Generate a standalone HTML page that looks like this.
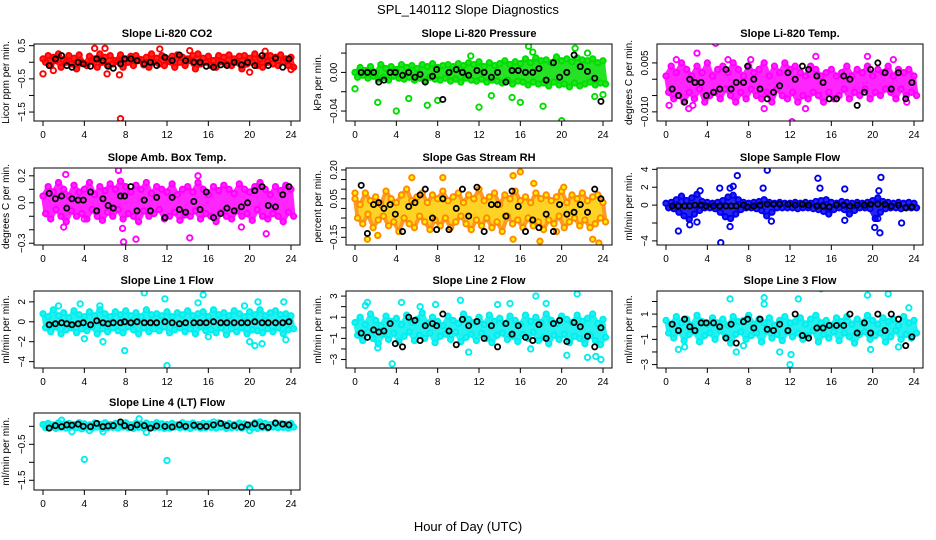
<!DOCTYPE html>
<html><head><meta charset="utf-8"><style>
body{margin:0;background:#fff}
svg{display:block;font-family:"Liberation Sans",Arial,sans-serif}
</style></head><body>
<svg id="c" width="936" height="540" viewBox="0 0 936 540">
<text x="468" y="14" text-anchor="middle" font-size="13">SPL_140112  Slope Diagnostics</text>
<text x="468" y="531" text-anchor="middle" font-size="13">Hour of Day (UTC)</text>
</svg>
<script>
const HOURS=[0,0.5,1,1.5,2,2.5,3,3.5,4,4.5,5,5.5,6,6.5,7,7.5,8,8.5,9,9.5,10,10.5,11,11.5,12,12.5,13,13.5,14,14.5,15,15.5,16,16.5,17,17.5,18,18.5,19,19.5,20,20.5,21,21.5,22,22.5,23,23.5,24];
const BHOURS=[0.6,1.2,1.8,2.3,2.8,3.4,3.9,4.6,5.2,5.8,6.3,6.8,7.5,7.9,8.5,9.1,9.8,10.4,11.0,11.8,12.5,13.2,13.8,14.6,15.2,15.8,16.5,17.2,17.8,18.5,19.2,19.8,20.5,21.2,21.8,22.5,23.2,23.8];
const XTICKS=[0,4,8,12,16,20,24];

const co2A=[0.1,0.2,0.15,0.25,0.05,0.2,0.12,0.22,-0.05,0.18,0.1,0.25,0.15,0.2,0.05,0.22,0.1,0.18,0.2,0.08,0.15,0.25,0.12,0.2,0.1,0.18,0.22,0.15,0.1,0.2,0.25,0.12,0.18,0.05,0.2,0.15,0.22,0.1,0.18,0.2,0.12,0.25,0.1,0.18,0.2,0.15,0.22,0.1,0.15];
const co2B=[0,-0.1,0.05,-0.15,0,-0.05,-0.2,0,-0.1,0.05,-0.15,0,-0.1,-0.05,0.02,-0.15,0,-0.1,0.05,-0.08,-0.15,0,-0.05,-0.1,0.02,-0.15,0,-0.1,0.05,-0.2,-0.05,0,-0.1,-0.15,0.02,-0.05,-0.1,0,-0.2,-0.05,0,-0.1,-0.15,0,-0.05,-0.1,0.02,-0.1,-0.15];
const co2Out=[[0,-0.35],[1,-0.25],[5,0.42],[6,0.42],[6.2,-0.35],[7.4,-0.38],[7.5,-1.7],[11.3,0.4],[14.2,0.35],[20,-0.3],[21.5,0.33],[24,-0.22]];
const co2K=[-0.1,0.1,0.2,-0.1,-0.15,0.0,-0.05,-0.12,0.1,0.05,-0.12,-0.18,-0.05,0.1,0.1,0.05,-0.05,0.0,-0.1,0.15,0.05,0.22,0.05,0.0,0.0,-0.12,-0.15,-0.08,-0.1,0.0,-0.08,0.0,-0.1,0.2,-0.1,0.12,-0.15,0.1];

const prA=[0.0,0.005,0.002,0.006,0.0,0.008,0.004,0.006,0.003,0.008,0.005,0.007,0.004,0.008,0.006,0.009,0.005,0.007,0.008,0.006,0.009,0.007,0.01,0.008,0.011,0.006,0.01,0.007,0.009,0.012,0.008,0.011,0.009,0.014,0.01,0.015,0.012,0.013,0.01,0.016,0.012,0.014,0.011,0.015,0.013,0.012,0.014,0.01,0.012];
const prB=[-0.005,-0.003,-0.006,-0.004,-0.007,-0.005,-0.008,-0.004,-0.006,-0.007,-0.005,-0.008,-0.006,-0.009,-0.005,-0.007,-0.008,-0.006,-0.009,-0.007,-0.01,-0.006,-0.008,-0.009,-0.007,-0.01,-0.008,-0.009,-0.011,-0.008,-0.012,-0.009,-0.01,-0.013,-0.01,-0.012,-0.011,-0.014,-0.01,-0.013,-0.012,-0.015,-0.011,-0.014,-0.012,-0.01,-0.013,-0.011,-0.012];
const prOut=[[0,-0.017],[2.2,-0.031],[4,-0.04],[5.2,-0.027],[7,-0.034],[8,-0.029],[11.2,0.017],[12,-0.036],[13.2,-0.024],[15.2,-0.026],[16,-0.031],[16.8,0.027],[17.2,0.021],[18.2,-0.035],[20,-0.05],[21.3,0.025],[22.5,0.02],[23.2,-0.025],[24,-0.023]];
const prK=[0.0,0.0,0.0,-0.01,-0.008,0.0,0.0,-0.003,0.0,-0.005,-0.002,-0.01,-0.004,0.003,-0.028,0.0,0.003,0.0,-0.003,0.002,0.0,-0.005,0.0,-0.01,0.002,0.002,0.0,0.0,0.004,-0.008,0.01,-0.005,0.0,0.018,0.006,0.001,-0.006,-0.03];

const tpA=[0.001,0.004,0.002,0.005,0.003,0.001,0.004,0.002,0.005,0.001,0.003,0.004,0.002,0.005,0.003,0.001,0.004,0.002,0.003,0.005,0.001,0.004,0.002,0.005,0.003,0.004,0.002,0.001,0.004,0.003,0.001,0.002,0.003,0.001,0.002,0.004,0.001,0.003,0.002,0.004,0.001,0.003,0.002,0.004,0.001,0.003,0.002,0.003,0.001];
const tpB=[-0.004,-0.006,-0.005,-0.007,-0.004,-0.006,-0.003,-0.007,-0.005,-0.004,-0.006,-0.003,-0.005,-0.007,-0.004,-0.006,-0.003,-0.005,-0.006,-0.004,-0.007,-0.003,-0.005,-0.006,-0.004,-0.007,-0.005,-0.006,-0.004,-0.005,-0.007,-0.004,-0.006,-0.005,-0.003,-0.006,-0.004,-0.005,-0.003,-0.006,-0.004,-0.005,-0.003,-0.004,-0.006,-0.003,-0.005,-0.004,-0.005];
const tpOut=[[0.3,-0.008],[1,0.006],[2.2,-0.009],[2.6,-0.008],[3,0.008],[4.8,0.011],[6,0.006],[8.2,0.006],[9.5,-0.009],[12.2,-0.013],[13.5,-0.009],[14.5,0.007],[19.5,0.007],[22,0.006],[23.3,-0.007]];
const tpK=[-0.003,-0.005,-0.007,0.0,-0.001,-0.001,-0.005,-0.004,-0.003,0.003,-0.003,-0.001,-0.001,0.004,0.0,-0.003,-0.006,-0.004,-0.002,0.002,0.0,0.004,0.003,0.001,-0.001,-0.006,-0.006,0.001,0.0,-0.008,-0.004,0.003,0.005,0.002,-0.003,0.002,-0.006,-0.001];

const abA=[0.05,0.12,0.08,0.15,0.1,0.05,0.13,0.08,0.1,0.15,0.06,0.12,0.09,0.14,0.1,0.16,0.12,0.08,0.13,0.1,0.15,0.07,0.12,0.1,0.08,0.14,0.06,0.1,0.12,0.08,0.15,0.1,0.06,0.12,0.09,0.13,0.1,0.07,0.14,0.1,0.08,0.12,0.15,0.1,0.06,0.12,0.09,0.13,0.1];
const abB=[-0.08,-0.12,-0.05,-0.1,-0.14,-0.06,-0.1,-0.08,-0.12,-0.05,-0.1,-0.13,-0.07,-0.1,-0.05,-0.12,-0.08,-0.1,-0.14,-0.06,-0.1,-0.08,-0.05,-0.12,-0.1,-0.07,-0.13,-0.09,-0.1,-0.06,-0.12,-0.08,-0.1,-0.14,-0.07,-0.1,-0.12,-0.06,-0.1,-0.08,-0.13,-0.05,-0.1,-0.12,-0.08,-0.1,-0.14,-0.07,-0.1];
const abOut=[[2.2,0.21],[7.3,0.24],[7.7,-0.19],[7.8,-0.29],[9,-0.27],[14.2,-0.26],[15,0.2],[19.2,-0.18],[21.6,-0.23],[2,-0.18],[4,-0.12]];
const abK=[0.07,0.03,0.05,-0.04,0.03,0.02,0.02,0.08,-0.06,0.03,-0.02,-0.04,0.05,0.05,0.12,-0.06,0.02,-0.06,0.04,-0.11,0.04,-0.05,-0.07,0.01,-0.05,0.08,-0.11,-0.08,-0.04,-0.06,-0.03,0.0,0.09,0.12,-0.02,-0.03,0.06,0.12];

const rhA=[0.05,0.02,0.08,0.04,0.06,0.02,0.09,0.05,0.03,0.07,0.1,0.04,0.06,0.08,0.03,0.07,0.05,0.09,0.04,0.06,0.08,0.03,0.07,0.05,0.1,0.04,0.06,0.08,0.02,0.07,0.05,0.09,0.04,0.06,0.03,0.08,0.05,0.07,0.04,0.06,0.09,0.03,0.07,0.05,0.08,0.04,0.06,0.07,0.03];
const rhB=[-0.05,-0.08,-0.03,-0.1,-0.06,-0.04,-0.09,-0.07,-0.12,-0.05,-0.08,-0.1,-0.04,-0.07,-0.11,-0.06,-0.09,-0.05,-0.1,-0.07,-0.04,-0.08,-0.11,-0.06,-0.09,-0.05,-0.1,-0.07,-0.12,-0.04,-0.08,-0.06,-0.1,-0.05,-0.09,-0.07,-0.11,-0.06,-0.08,-0.04,-0.1,-0.07,-0.05,-0.09,-0.06,-0.1,-0.08,-0.05,-0.07];
const rhOut=[[0,0.08],[1.2,-0.16],[2.2,-0.14],[5.5,0.16],[8.5,0.16],[15.3,0.17],[15.3,-0.16],[16,0.19],[17.3,0.13],[17.9,-0.17],[19.5,-0.12],[23,-0.16],[23.6,-0.18],[20.2,0.11]];
const rhK=[0.12,-0.13,0.02,0.03,0.0,0.02,-0.03,-0.12,0.01,0.03,0.07,0.1,-0.05,-0.11,0.05,-0.11,0.0,0.1,-0.04,0.11,-0.12,0.02,0.02,-0.04,0.09,0.01,-0.12,-0.06,-0.1,-0.03,-0.12,0.02,-0.03,-0.02,0.02,-0.02,0.1,0.05];

const sfA=[0.2,0.3,0.6,1.0,0.5,0.8,1.2,0.4,0.3,0.2,0.3,0.5,0.9,1.1,0.6,0.3,0.2,0.3,0.4,0.6,0.3,0.2,0.3,0.2,0.2,0.3,0.2,0.3,0.2,0.4,0.5,0.6,0.3,0.2,0.4,0.3,0.2,0.3,0.2,0.3,0.5,0.8,0.4,0.3,0.2,0.3,0.2,0.3,0.2];
const sfB=[-0.3,-0.4,-0.8,-1.2,-1.6,-1.0,-0.6,-0.3,-0.3,-0.4,-0.8,-1.3,-1.5,-1.0,-0.5,-0.3,-0.3,-0.4,-0.6,-1.2,-0.8,-0.3,-0.3,-0.3,-0.3,-0.4,-0.3,-0.3,-0.4,-0.5,-0.7,-1.0,-0.5,-0.3,-0.5,-1.0,-0.6,-0.3,-0.3,-0.4,-1.5,-0.8,-0.4,-0.3,-0.3,-0.4,-0.3,-0.3,-0.3];
const sfOut=[[1.2,-2.9],[2.3,-2.2],[3,-1.9],[3.3,1.6],[5.2,1.9],[5.3,-4.2],[6.2,1.9],[6.5,2.1],[6.9,3.3],[6.2,-2.4],[9.4,1.9],[9.8,3.9],[10.2,-1.8],[14.7,3.0],[14.9,1.9],[17.3,1.8],[17.3,-1.7],[20.2,-2.5],[20.5,-1.5],[20.7,-3.1],[20.8,3.1],[20.6,1.6],[22.8,-2.0]];
const sfK=[-0.1,-0.1,-0.1,-0.1,0.0,0.0,-0.1,-0.1,-0.1,-0.1,-0.1,-0.1,0.0,-0.2,-0.1,0.0,0.1,0.1,0.1,0.1,0.0,0.1,0.0,-0.1,-0.1,-0.2,0.0,0.0,-0.1,0.0,0.0,0.1,0.1,0.1,-0.1,0.0,-0.3,-0.2];

const l1A=[0.8,0.5,1.2,0.6,0.9,0.4,1.1,0.7,0.5,1.0,0.6,1.2,0.8,0.5,1.0,0.7,1.1,0.6,0.9,0.5,1.2,0.7,0.8,0.6,1.0,0.5,0.9,0.7,1.1,0.6,0.8,1.0,0.5,1.2,0.7,0.9,0.6,1.1,0.8,0.5,1.0,0.7,1.2,0.6,0.9,1.1,0.7,0.8,0.6];
const l1B=[-0.6,-1.0,-0.5,-1.2,-0.8,-0.6,-1.1,-0.7,-0.9,-0.5,-1.2,-0.7,-1.0,-0.6,-0.9,-1.1,-0.5,-0.8,-1.2,-0.6,-1.0,-0.7,-0.9,-0.5,-1.1,-0.8,-0.6,-1.0,-0.7,-1.2,-0.5,-0.9,-0.8,-1.1,-0.6,-1.3,-0.7,-1.0,-0.6,-1.2,-0.8,-0.9,-1.1,-0.7,-1.0,-0.6,-1.2,-0.8,-0.7];
const l1Out=[[1.5,1.6],[3.6,1.8],[4.0,-1.7],[5.5,1.6],[5.8,-2.0],[9.8,2.9],[7.9,-2.9],[11.8,2.3],[12.0,-4.4],[15,1.9],[15.5,2.7],[16,-1.5],[19.5,1.6],[20.8,2.0],[20,-2.0],[20.5,-2.4],[21.2,-2.2],[23.3,2.0],[23.5,-1.8]];
const l1K=[-0.3,-0.2,-0.1,-0.2,-0.3,-0.2,-0.1,-0.3,0.1,-0.1,-0.2,-0.1,-0.1,0.0,-0.1,0.0,-0.1,-0.1,-0.1,0.0,-0.1,-0.2,-0.1,-0.1,-0.1,-0.1,0.0,-0.1,-0.1,-0.1,-0.1,-0.1,0.0,-0.1,-0.1,-0.1,-0.1,0.0];

const l2A=[0.5,1.0,0.3,1.3,0.7,0.2,1.1,0.6,0.9,0.3,1.2,0.5,0.8,1.4,0.4,1.0,0.6,0.2,1.1,0.7,0.4,1.3,0.8,0.5,1.0,0.3,1.2,0.6,0.9,0.4,1.1,0.7,0.3,1.2,0.6,1.0,0.5,1.3,0.7,0.4,1.1,0.8,0.5,1.2,0.6,0.9,1.3,0.4,0.8];
const l2B=[-0.7,-1.2,-0.4,-1.0,-1.5,-0.6,-1.1,-0.5,-1.3,-0.8,-0.4,-1.2,-0.7,-1.0,-0.5,-1.4,-0.8,-0.6,-1.1,-0.4,-1.3,-0.9,-0.6,-1.2,-0.5,-1.0,-1.4,-0.7,-0.5,-1.1,-0.8,-1.3,-0.6,-1.0,-0.4,-1.2,-0.9,-1.5,-0.7,-1.1,-0.6,-1.4,-0.8,-1.0,-1.5,-0.7,-1.2,-1.6,-0.9];
const l2Out=[[1.2,2.4],[1.0,2.1],[2.2,-1.9],[3.6,-3.4],[4.5,2.4],[6.3,2.0],[7.8,2.2],[10.2,2.6],[11,-2.3],[13.8,2.2],[15,2.3],[17,-2.0],[17.5,3.0],[18.5,2.3],[20.5,-2.6],[21.5,3.2],[22.5,-2.8],[23.8,-3.0],[23.3,-2.7]];
const l2K=[-0.5,-0.9,-0.2,-0.4,-0.3,0.4,-1.5,-1.8,1.0,0.7,-1.2,0.2,0.4,0.2,1.3,-0.3,-1.6,0.8,0.2,0.6,-1.0,0.2,-1.8,0.4,-0.6,0.2,-0.9,-1.2,0.3,-1.0,0.4,0.7,-1.3,0.5,0.1,-0.8,-1.8,0.0];

const l3A=[0.5,0.2,0.8,0.3,0.6,0.1,0.9,0.4,0.2,0.7,0.3,0.6,0.1,0.8,0.4,0.5,0.9,0.2,0.6,0.3,0.7,0.1,0.5,0.8,0.3,0.4,0.7,0.2,0.6,0.9,0.3,0.5,0.1,0.7,0.4,0.8,0.2,0.6,0.3,0.9,0.5,0.2,0.7,0.4,0.6,0.1,0.8,0.3,0.5];
const l3B=[-0.5,-0.9,-0.3,-1.1,-0.6,-0.4,-1.2,-0.7,-0.5,-1.0,-0.3,-0.8,-1.3,-0.6,-0.4,-1.0,-0.7,-0.5,-1.2,-0.3,-0.9,-0.6,-1.1,-0.4,-0.8,-0.5,-1.0,-0.7,-0.3,-1.2,-0.6,-0.9,-0.4,-1.1,-0.5,-0.8,-1.3,-0.6,-0.4,-1.0,-0.7,-0.5,-1.2,-0.8,-0.3,-1.0,-0.6,-0.9,-0.5];
const l3Out=[[1.2,-1.8],[1.8,-1.6],[6.2,2.2],[6.8,-2.0],[7.5,-1.5],[9.5,2.3],[9.5,1.8],[11,-2.0],[12,-3.0],[12.1,-2.2],[12.8,2.2],[15,3.0],[19.5,2.5],[19.8,-1.8],[21.5,2.6],[23.5,1.5],[22.5,-1.6]];
const l3K=[0.2,-0.3,0.6,0.0,-0.3,0.3,0.3,0.3,0.0,-0.9,0.2,-1.3,0.4,0.6,-0.1,0.6,-0.2,-0.3,0.2,-0.3,1.0,-0.7,-0.9,-0.1,-0.1,0.1,0.1,0.1,1.0,-0.5,0.3,-0.5,1.0,-0.3,1.0,0.6,-1.5,-0.8];

const l4A=[0.05,0.08,0.04,0.1,0.06,0.08,0.05,0.1,0.07,0.04,0.09,0.06,0.1,0.05,0.08,0.06,0.1,0.04,0.08,0.06,0.09,0.05,0.1,0.07,0.05,0.08,0.04,0.1,0.06,0.09,0.05,0.08,0.07,0.04,0.1,0.06,0.08,0.05,0.09,0.07,0.04,0.1,0.06,0.08,0.05,0.1,0.07,0.06,0.08];
const l4B=[-0.04,-0.02,-0.06,-0.03,-0.05,-0.02,-0.04,-0.07,-0.03,-0.05,-0.02,-0.06,-0.04,-0.03,-0.05,-0.02,-0.04,-0.06,-0.03,-0.05,-0.02,-0.04,-0.03,-0.06,-0.05,-0.02,-0.04,-0.03,-0.06,-0.02,-0.05,-0.04,-0.03,-0.05,-0.02,-0.06,-0.04,-0.03,-0.05,-0.02,-0.04,-0.06,-0.03,-0.05,-0.02,-0.04,-0.03,-0.05,-0.02];
const l4Out=[[1.8,0.17],[2.8,-0.15],[4,-0.92],[4.5,-0.12],[5.8,-0.15],[9.3,0.21],[10,-0.17],[12,-0.95],[16.5,0.12],[20,-1.72],[20,-0.12],[21,0.12]];
const l4K=[-0.05,0.02,-0.01,0.04,0.03,0.06,0.0,-0.01,0.08,-0.01,0.01,0.02,0.12,0.02,-0.03,0.04,0.02,-0.05,0.01,0.0,-0.02,0.04,0.0,0.03,0.0,0.0,0.04,0.08,0.02,0.02,-0.02,0.04,0.07,0.0,-0.03,0.09,0.06,0.04];

const PANELS=[
 {t:"Slope Li-820 CO2",yl:"Licor ppm per min.",col:0,row:0,y0:-1.77,y1:0.55,ticks:[0.5,0,-0.5,-1,-1.5],labs:["0.5","","-0.5","","-1.5"],c:"#ff0000",A:co2A,B:co2B,O:co2Out,K:co2K},
 {t:"Slope Li-820 Pressure",yl:"kPa per min.",col:1,row:0,y0:-0.0503,y1:0.0294,ticks:[0.02,0,-0.02,-0.04],labs:["","0.00","","-0.04"],c:"#00dd00",A:prA,B:prB,O:prOut,K:prK},
 {t:"Slope Li-820 Temp.",yl:"degrees C per min.",col:2,row:0,y0:-0.0128,y1:0.0108,ticks:[0.005,0,-0.005,-0.01],labs:["0.005","","","-0.010"],c:"#ff00ff",A:tpA,B:tpB,O:tpOut,K:tpK},
 {t:"Slope Amb. Box Temp.",yl:"degrees C per min.",col:0,row:1,y0:-0.313,y1:0.258,ticks:[0.2,0.1,0,-0.1,-0.2,-0.3],labs:["0.2","","0.0","","","-0.3"],c:"#ff00ff",A:abA,B:abB,O:abOut,K:abK},
 {t:"Slope Gas Stream RH",yl:"percent per min.",col:1,row:1,y0:-0.19,y1:0.21,ticks:[0.2,0.15,0.1,0.05,0,-0.05,-0.1,-0.15],labs:["0.20","","","0.05","","","","-0.15"],c:"#ff8800",A:rhA,B:rhB,O:rhOut,K:rhK},
 {t:"Slope Sample Flow",yl:"ml/min per min.",col:2,row:1,y0:-4.46,y1:4.15,ticks:[4,2,0,-2,-4],labs:["4","2","0","","-4"],c:"#0000ee",A:sfA,B:sfB,O:sfOut,K:sfK},
 {t:"Slope Line 1 Flow",yl:"ml/min per min.",col:0,row:2,y0:-4.64,y1:3.09,ticks:[2,0,-2,-4],labs:["2","0","-2","-4"],c:"#00eeee",A:l1A,B:l1B,O:l1Out,K:l1K},
 {t:"Slope Line 2 Flow",yl:"ml/min per min.",col:1,row:2,y0:-3.8,y1:3.48,ticks:[3,2,1,0,-1,-2,-3],labs:["3","","1","","-1","","-3"],c:"#00eeee",A:l2A,B:l2B,O:l2Out,K:l2K},
 {t:"Slope Line 3 Flow",yl:"ml/min per min.",col:2,row:2,y0:-3.27,y1:2.83,ticks:[2,1,0,-1,-2,-3],labs:["","1","","-1","","-3"],c:"#00eeee",A:l3A,B:l3B,O:l3Out,K:l3K},
 {t:"Slope Line 4 (LT) Flow",yl:"ml/min per min.",col:0,row:3,y0:-1.77,y1:0.37,ticks:[0,-0.5,-1,-1.5],labs:["","-0.5","","-1.5"],c:"#00eeee",A:l4A,B:l4B,O:l4Out,K:l4K}
];
const COLX=[34,346,657], ROWY=[44,168,291,413], PW=266, PH=77;
const NS="http://www.w3.org/2000/svg", svg=document.getElementById("c");
function mk(tag,at,parent){const e=document.createElementNS(NS,tag);for(const k in at)e.setAttribute(k,at[k]);(parent||svg).appendChild(e);return e;}
PANELS.forEach((p,i)=>{
  const L=COLX[p.col],T=ROWY[p.row];
  const g=mk("g",{});
  
  
  const xs=h=>L+9+h/24*248;
  const ys=v=>T+PH-(v-p.y0)/(p.y1-p.y0)*PH;
  const cl=mk("clipPath",{id:"cp"+i},g);mk("rect",{x:L,y:T,width:PW,height:PH},cl);
  const pts=mk("g",{"clip-path":"url(#cp"+i+")"},g);
  const isRH=p.c==="#ff8800";
  // dense cloud band between the A (upper) and B (lower) series
  let d="";
  HOURS.forEach((h,j)=>{d+=(j?"L":"M")+xs(h)+","+ys(p.A[j]);});
  for(let j=HOURS.length-1;j>=0;j--){d+="L"+xs(HOURS[j]+0.25)+","+ys(p.B[j]);}
  const band=mk("path",{d:d+"Z",fill:isRH?"#ffcc00":p.c,stroke:p.c,"stroke-width":4,"stroke-linejoin":"round",opacity:0.85},pts);
  
  
  const fill=isRH?"#ffee00":"none";
  const drawPt=(h,v,col,nm)=>{const e=mk("circle",{cx:xs(h),cy:ys(v),r:2.7,fill:fill,stroke:col,"stroke-width":1.9},pts);
    
    };
  HOURS.forEach((h,j)=>{drawPt(h,p.A[j],p.c,'point');drawPt(h+0.25,p.B[j],p.c,'point');});
  p.O.forEach(o=>drawPt(o[0],o[1],p.c,'outlier-point'));
  BHOURS.forEach((h,j)=>{const e=mk("circle",{cx:xs(h),cy:ys(p.K[j]),r:2.6,fill:"none",stroke:"#000","stroke-width":1.8},pts);
    
    });
  const box=mk("rect",{x:L,y:T,width:PW,height:PH,fill:"none",stroke:"#000","stroke-width":1},g);
  
  
  const tt=mk("text",{x:L+PW/2,y:T-7,"text-anchor":"middle","font-size":11,"font-weight":"bold"},g);tt.textContent=p.t;
  
  
  const yl=mk("text",{transform:`translate(${L-25},${T+PH/2}) rotate(-90)`,"text-anchor":"middle","font-size":10},g);yl.textContent=p.yl;
  
  
  XTICKS.forEach(h=>{mk("line",{x1:xs(h),x2:xs(h),y1:T+PH,y2:T+PH+5,stroke:"#000"},g);
    const t=mk("text",{x:xs(h),y:T+PH+17,"text-anchor":"middle","font-size":10},g);t.textContent=h;
    
    });
  p.ticks.forEach((v,j)=>{const y=ys(v);mk("line",{x1:L-5,x2:L,y1:y,y2:y,stroke:"#000"},g);
    if(p.labs[j]){const t=mk("text",{transform:`translate(${L-9},${y}) rotate(-90)`,"text-anchor":"middle","font-size":10},g);t.textContent=p.labs[j].replace("-","\u2212");
    
    }});
});
</script>
</body></html>
